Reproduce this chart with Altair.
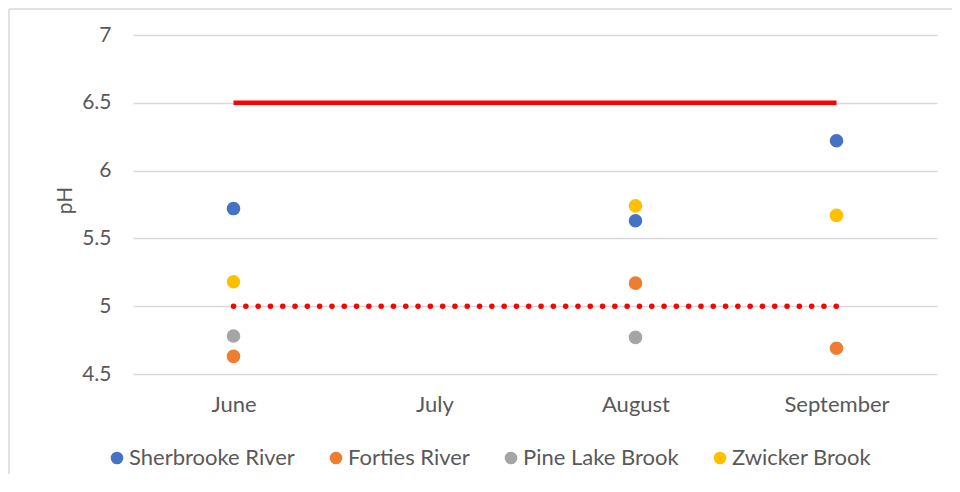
import altair as alt
import pandas as pd

months = ["June", "July", "August", "September"]
series = ["Sherbrooke River", "Forties River", "Pine Lake Brook", "Zwicker Brook"]
colors = ["#4472C4", "#ED7D31", "#A5A5A5", "#FFC000"]

sherbrooke = [5.72, None, 5.63, 6.22]
forties = [4.63, None, 5.17, 4.69]
pine_lake = [4.78, None, 4.77, None]
zwicker = [5.18, None, 5.74, 5.67]

upper_limit = [6.5, None, None, 6.5]
lower_limit = [5.0, None, None, 5.0]

y_ticks = [4.5, 5, 5.5, 6, 6.5, 7]

FONT = "Lato, 'Liberation Sans', sans-serif"
TXT = "#595959"

rows = []
for name, vals in zip(series, [sherbrooke, forties, pine_lake, zwicker]):
    for m, v in zip(months, vals):
        if v is not None:
            rows.append({"month": m, "series": name, "pH": v})
pts = pd.DataFrame(rows)

up = pd.DataFrame([{"month": m, "pH": v} for m, v in zip(months, upper_limit) if v is not None])
lo = pd.DataFrame([{"month": m, "pH": v} for m, v in zip(months, lower_limit) if v is not None])

x_enc = alt.X(
    "month:N",
    sort=months,
    scale=alt.Scale(type="point", domain=months, padding=0.5),
    axis=alt.Axis(
        title=None, labelAngle=0, grid=False, ticks=False, tickSize=0, domain=False,
        labelFontSize=22, labelColor=TXT, labelFont=FONT, labelPadding=20,
    ),
)
y_enc = alt.Y(
    "pH:Q",
    scale=alt.Scale(domain=[4.5, 7], nice=False, zero=False),
    axis=alt.Axis(
        title="pH", values=y_ticks, format="~g", grid=True, gridColor="#d9d9d9",
        gridWidth=1.3, domain=False, ticks=False, tickSize=0,
        labelFontSize=21, labelColor=TXT, labelFont=FONT, labelPadding=22,
        titleFontSize=21, titleColor=TXT, titleFont=FONT, titleFontWeight="normal",
        titleX=-68, titleY=165, titleAlign="center", titleBaseline="middle", titleAngle=-90,
    ),
)

border_df = pd.DataFrame({"a": [0]})
border_top = alt.Chart(border_df).mark_rule(color="#d9d9d9", strokeWidth=1.5).encode(
    x=alt.value(-124), x2=alt.value(830), y=alt.value(-26)
)
border_left = alt.Chart(border_df).mark_rule(color="#d9d9d9", strokeWidth=1.5).encode(
    x=alt.value(-124), y=alt.value(-26), y2=alt.value(460)
)

upper_line = alt.Chart(up).mark_line(color="#FF0000", strokeWidth=4.5).encode(x=x_enc, y=y_enc)
lower_line = alt.Chart(lo).mark_line(
    color="#FF0000", strokeWidth=5.5, strokeDash=[0.1, 12.2], strokeCap="round"
).encode(x=x_enc, y=y_enc)

points = alt.Chart(pts).mark_circle(size=185, opacity=1).encode(
    x=x_enc,
    y=y_enc,
    color=alt.Color(
        "series:N",
        sort=series,
        scale=alt.Scale(domain=series, range=colors),
        legend=alt.Legend(
            title=None, orient="none", legendX=-27, legendY=412, direction="horizontal",
            columns=4, columnPadding=30, labelOffset=1, symbolSize=160, symbolType="circle",
            symbolStrokeWidth=0, labelFontSize=22, labelColor=TXT, labelFont=FONT, padding=0,
            labelLimit=400,
        ),
    ),
)

chart = (
    alt.layer(border_top, border_left, upper_line, lower_line, points)
    .properties(
        width=804,
        height=339,
        autosize=alt.AutoSizeParams(type="none"),
        padding={"left": 125, "top": 27, "right": 15, "bottom": 100},
        background="white",
    )
    .configure_view(stroke=None)
)

chart.save("out.html", embed_options={"renderer": "svg", "actions": False})
